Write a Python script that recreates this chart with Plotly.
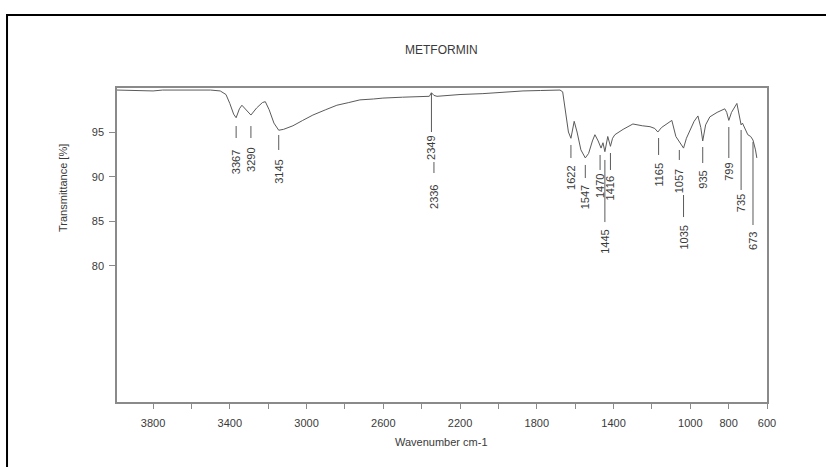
import plotly.graph_objects as go

# ---------------- data ----------------
wavenumber = [3988, 3900, 3850, 3800, 3750, 3700, 3600, 3500, 3450, 3420, 3400, 3380, 3367,
              3350, 3337, 3310, 3290, 3260, 3230, 3215, 3195, 3170, 3145, 3120, 3071, 3020,
              2967, 2900, 2842, 2780, 2722, 2650, 2602, 2500, 2400, 2360, 2349, 2336, 2320,
              2200, 2081, 1950, 1872, 1780, 1700, 1679, 1665, 1650, 1635, 1622, 1605, 1590,
              1570, 1547, 1530, 1510, 1497, 1480, 1465, 1455, 1445, 1430, 1416, 1405, 1393,
              1350, 1299, 1250, 1210, 1185, 1169, 1150, 1110, 1096, 1075, 1057, 1045, 1035,
              1020, 1000, 980, 960, 945, 935, 920, 898, 860, 820, 810, 799, 785, 757, 745,
              735, 728, 715, 700, 685, 673, 660, 653]
transmittance = [99.7, 99.65, 99.7, 99.6, 99.7, 99.7, 99.65, 99.7, 99.6, 99.2, 98.2, 97.0, 96.6,
                 97.6, 98.0, 97.4, 96.9, 97.7, 98.3, 98.4, 97.5, 96.0, 95.2, 95.3, 95.7, 96.3,
                 96.9, 97.5, 98.0, 98.3, 98.6, 98.7, 98.8, 98.9, 99.0, 99.0, 99.4, 99.1, 99.0,
                 99.2, 99.3, 99.5, 99.6, 99.65, 99.7, 99.7, 99.5, 97.5, 95.0, 94.3, 96.2, 95.0,
                 93.0, 92.1, 92.6, 94.0, 94.7, 94.0, 93.2, 93.8, 92.8, 94.5, 93.4, 94.3, 94.7,
                 95.3, 95.9, 95.7, 95.6, 95.4, 95.0, 95.5, 96.1, 96.3, 94.5, 93.9, 93.5, 93.2,
                 94.3, 95.3, 96.2, 96.8, 95.5, 94.0, 95.8, 96.7, 97.2, 97.6, 97.2, 96.3, 97.2,
                 98.2, 97.0, 95.8, 96.0, 95.3, 94.7, 94.5, 94.1, 93.0, 92.1]

peak_labels = ["3367", "3290", "3145", "2349", "2336", "1622", "1547", "1470", "1445",
               "1416", "1165", "1057", "1035", "935", "799", "735", "673"]
peak_wavenumbers = [3367, 3290, 3145, 2349, 2336, 1622, 1547, 1470, 1445,
                    1416, 1165, 1057, 1035, 935, 799, 735, 673]

x_tick_values = [3800, 3600, 3400, 3200, 3000, 2800, 2600, 2400, 2200, 2000, 1800,
                 1600, 1400, 1200, 1000, 800, 600]
x_tick_labels = ["3800", "", "3400", "", "3000", "", "2600", "", "2200", "", "1800",
                 "", "1400", "", "1000", "800", "600"]
y_tick_values = [80, 85, 90, 95]
y_tick_labels = ["80", "85", "90", "95"]

# ---------------- label layout (line top, line bottom, text centre in %T) ----------------
label_layout = [
    (95.67, 94.33, 91.64),  # 3367
    (95.67, 94.33, 91.87),  # 3290
    (94.67, 92.99, 90.52),  # 3145
    (99.37, 95.00, 93.27),  # 2349
    (91.64, 90.41, 87.72),  # 2336
    (93.55, 92.09, 89.85),  # 1622
    (91.31, 89.85, 87.72),  # 1547
    (92.43, 90.75, 88.96),  # 1470
    (91.87, 84.92, 82.69),  # 1445
    (92.65, 90.75, 88.73),  # 1416
    (94.33, 92.43, 90.19),  # 1165
    (92.99, 91.87, 89.52),  # 1057
    (87.95, 85.48, 83.13),  # 1035
    (93.32, 91.53, 89.63),  # 935
    (95.56, 92.09, 90.52),  # 799
    (95.23, 88.51, 87.05),  # 735
    (93.88, 84.59, 82.80),  # 673
]

FONT = "Arial, Liberation Sans, sans-serif"
TEXT_COLOR = "#3a3a3a"
AXIS_COLOR = "#8a8a8a"
LINE_COLOR = "#5a5a5a"

fig = go.Figure()
fig.add_trace(go.Scatter(x=wavenumber, y=transmittance, mode="lines",
                         line=dict(color=LINE_COLOR, width=1), hoverinfo="skip",
                         showlegend=False))

shapes = []
annotations = []
for lab, wn, (ltop, lbot, tc) in zip(peak_labels, peak_wavenumbers, label_layout):
    shapes.append(dict(type="line", xref="x", yref="y", x0=wn, x1=wn, y0=ltop, y1=lbot,
                       line=dict(color=LINE_COLOR, width=1)))
    annotations.append(dict(x=wn, y=tc, xref="x", yref="y", text=lab, showarrow=False,
                            textangle=-90, font=dict(family=FONT, size=11, color=TEXT_COLOR),
                            xanchor="center", yanchor="middle"))

# outer black frame (page border)
shapes.append(dict(type="rect", xref="paper", yref="paper", x0=-0.1692, x1=1.12,
                   y0=-0.25, y1=1.2325, line=dict(color="black", width=2),
                   fillcolor="rgba(0,0,0,0)", layer="above"))

annotations.append(dict(x=0.4985, y=1.121, xref="paper", yref="paper", text="METFORMIN",
                        showarrow=False, font=dict(family=FONT, size=12, color=TEXT_COLOR),
                        xanchor="center", yanchor="middle"))
annotations.append(dict(x=-0.0831, y=0.6815, xref="paper", yref="paper",
                        text="Transmittance [%]", showarrow=False, textangle=-90,
                        font=dict(family=FONT, size=11, color=TEXT_COLOR),
                        xanchor="center", yanchor="middle"))
annotations.append(dict(x=0.4985, y=-0.1274, xref="paper", yref="paper",
                        text="Wavenumber cm-1", showarrow=False,
                        font=dict(family=FONT, size=11, color=TEXT_COLOR),
                        xanchor="center", yanchor="middle"))

fig.update_layout(
    template="none",
    width=826, height=467,
    margin=dict(l=117, r=59, t=88, b=65),
    paper_bgcolor="white", plot_bgcolor="white",
    shapes=shapes, annotations=annotations,
    font=dict(family=FONT, size=11, color=TEXT_COLOR),
    showlegend=False,
)
fig.update_xaxes(range=[3988, 600], tickvals=x_tick_values, ticktext=x_tick_labels,
                 ticks="outside", ticklen=5, tickcolor=AXIS_COLOR, showgrid=False,
                 zeroline=False, showline=True, linecolor=AXIS_COLOR, linewidth=1.5,
                 mirror=True, ticklabelstandoff=5,
                 tickfont=dict(family=FONT, size=11, color=TEXT_COLOR))
fig.update_yaxes(range=[64.77, 99.93], tickvals=y_tick_values, ticktext=y_tick_labels,
                 ticks="outside", ticklen=6, tickcolor=AXIS_COLOR, showgrid=False,
                 zeroline=False, showline=True, linecolor=AXIS_COLOR, linewidth=1.5,
                 mirror=True, ticklabelstandoff=3,
                 tickfont=dict(family=FONT, size=11, color=TEXT_COLOR))

fig.write_html("out.html",
               config={"displayModeBar": False},
               post_script="document.body.style.margin='0';document.body.style.overflow='hidden';")
